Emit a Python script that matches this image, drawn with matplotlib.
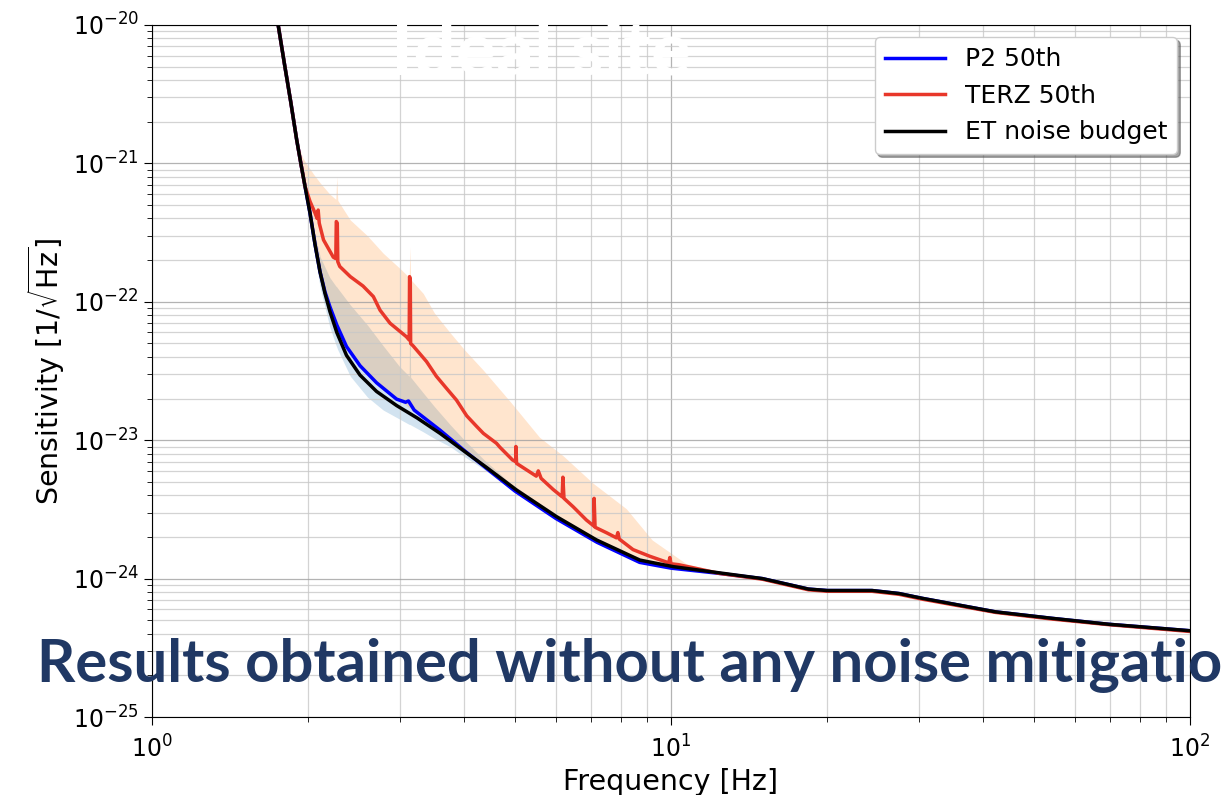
import numpy as np
import matplotlib
matplotlib.use("Agg")
import matplotlib.pyplot as plt
from matplotlib.ticker import NullFormatter

# ET noise budget
et_freq = [1.70, 1.75, 1.80, 1.85, 1.90, 1.94, 1.972, 2.016, 2.061, 2.107, 2.154, 2.202,
           2.27, 2.37, 2.517, 2.708, 2.96, 3.24, 3.59, 4.0, 4.4, 5.04, 6.02, 7.19, 8.71,
           10.1, 12.4, 15.0, 18.4, 20.0, 24.4, 27.5, 30.5, 42.2, 54.3, 69.6, 100.0]
et_val = [1.9e-20, 1.0e-20, 5.2e-21, 2.8e-21, 1.48e-21, 9.5e-22, 6.8e-22, 4.36e-22, 2.6e-22,
          1.65e-22, 1.15e-22, 8.5e-23, 6.0e-23, 4.1e-23, 2.95e-23, 2.25e-23, 1.78e-23,
          1.45e-23, 1.12e-23, 8.3e-24, 6.4e-24, 4.36e-24, 2.8e-24, 1.9e-24, 1.36e-24,
          1.22e-24, 1.1e-24, 1.0e-24, 8.4e-25, 8.2e-25, 8.2e-25, 7.8e-25, 7.2e-25,
          5.75e-25, 5.16e-25, 4.68e-25, 4.2e-25]

# P2 50th percentile
p2_freq = [1.70, 1.75, 1.80, 1.85, 1.90, 1.94, 1.972, 2.016, 2.061, 2.107, 2.154, 2.202,
           2.27, 2.37, 2.517, 2.708, 2.96, 3.08, 3.12, 3.20, 3.59, 4.0, 4.4, 5.0, 6.0, 7.2,
           8.7, 10.0, 12.4, 15.0, 18.4, 20.0, 24.4, 27.5, 30.5, 42.2, 54.3, 69.6, 100.0]
p2_val = [1.9e-20, 1.0e-20, 5.2e-21, 2.8e-21, 1.48e-21, 9.5e-22, 6.8e-22, 4.36e-22, 2.6e-22,
          1.65e-22, 1.18e-22, 9.2e-23, 6.8e-23, 4.75e-23, 3.45e-23, 2.6e-23, 1.98e-23,
          1.88e-23, 1.92e-23, 1.65e-23, 1.18e-23, 8.4e-24, 6.3e-24, 4.3e-24, 2.72e-24,
          1.83e-24, 1.31e-24, 1.19e-24, 1.09e-24, 1.0e-24, 8.4e-25, 8.2e-25, 8.2e-25,
          7.8e-25, 7.2e-25, 5.75e-25, 5.16e-25, 4.68e-25, 4.2e-25]

# TERZ 50th percentile
terz_freq = [1.70, 1.75, 1.80, 1.85, 1.90, 1.94, 1.972, 2.016, 2.06, 2.08, 2.09, 2.10, 2.14,
             2.235, 2.26, 2.265, 2.275, 2.28, 2.30, 2.41, 2.55, 2.67, 2.75, 2.875, 3.09,
             3.13, 3.135, 3.145, 3.15, 3.185, 3.38, 3.53, 3.70, 3.86, 4.04, 4.22, 4.35,
             4.61, 4.68, 4.95, 5.02, 5.025, 5.04, 5.27, 5.50, 5.55, 5.62, 5.93, 6.17, 6.19,
             6.22, 6.48, 6.87, 7.10, 7.11, 7.14, 7.52, 7.85, 7.90, 7.95, 8.45, 9.10, 9.90,
             9.95, 10.0, 10.35, 12.4, 15.0, 18.4, 20.0, 24.4, 27.5, 30.5, 42.2, 54.3, 69.6,
             100.0]
terz_val = [1.9e-20, 1.0e-20, 5.2e-21, 2.8e-21, 1.48e-21, 9.5e-22, 6.8e-22, 5.3e-22, 4.4e-22,
            4.0e-22, 4.6e-22, 3.7e-22, 2.8e-22, 2.1e-22, 2.05e-22, 3.8e-22, 3.7e-22,
            1.95e-22, 1.8e-22, 1.52e-22, 1.3e-22, 1.09e-22, 8.7e-23, 7.0e-23, 5.6e-23,
            5.3e-23, 1.52e-22, 1.45e-22, 5.0e-23, 4.8e-23, 3.7e-23, 2.9e-23, 2.35e-23,
            1.95e-23, 1.5e-23, 1.26e-23, 1.12e-23, 9.5e-24, 8.9e-24, 7.2e-24, 7.0e-24,
            9.0e-24, 6.8e-24, 6.1e-24, 5.5e-24, 6.0e-24, 5.3e-24, 4.4e-24, 3.9e-24, 5.4e-24,
            3.8e-24, 3.3e-24, 2.65e-24, 2.4e-24, 3.8e-24, 2.35e-24, 2.14e-24, 1.97e-24,
            2.15e-24, 1.93e-24, 1.62e-24, 1.45e-24, 1.3e-24, 1.42e-24, 1.28e-24, 1.26e-24,
            1.09e-24, 0.99e-24, 8.3e-25, 8.1e-25, 8.1e-25, 7.7e-25, 7.1e-25, 5.7e-25,
            5.1e-25, 4.65e-25, 4.15e-25]

# spread bands (shaded)
band_freq = [1.90, 1.95, 2.00, 2.05, 2.11, 2.20, 2.26, 2.27, 2.28, 2.41, 2.60, 2.79, 3.00,
             3.13, 3.14, 3.15, 3.33, 3.50, 3.75, 4.00, 4.35, 4.90, 5.58, 6.20, 7.07, 8.20,
             9.20, 10.7, 12.4]
terz_hi = [1.48e-21, 1.1e-21, 9.5e-22, 8.3e-22, 7.2e-22, 6.0e-22, 5.5e-22, 8.0e-22, 5.4e-22,
           3.9e-22, 3.0e-22, 2.24e-22, 1.75e-22, 1.5e-22, 2.5e-22, 1.45e-22, 1.15e-22,
           8.3e-23, 6.0e-23, 4.5e-23, 3.2e-23, 1.9e-23, 1.05e-23, 7.7e-24, 4.9e-24,
           3.2e-24, 1.9e-24, 1.28e-24, 1.12e-24]
terz_lo = [1.48e-21, 8.6e-22, 5.0e-22, 3.0e-22, 1.65e-22, 9.3e-23, 7.2e-23, 7.0e-23, 6.8e-23,
           4.4e-23, 3.0e-23, 2.3e-23, 1.93e-23, 1.72e-23, 1.72e-23, 1.7e-23, 1.45e-23,
           1.26e-23, 1.05e-23, 8.5e-24, 6.7e-24, 4.8e-24, 3.45e-24, 2.7e-24, 2.0e-24,
           1.52e-24, 1.32e-24, 1.18e-24, 1.1e-24]
p2_hi = [1.48e-21, 8.7e-22, 5.2e-22, 3.3e-22, 2.1e-22, 1.5e-22, 1.3e-22, 1.28e-22, 1.25e-22,
         9.5e-23, 6.8e-23, 4.8e-23, 3.4e-23, 2.9e-23, 1.4e-22, 2.85e-23, 2.2e-23,
         1.75e-23, 1.3e-23, 1.0e-23, 7.3e-24, 4.9e-24, 3.5e-24, 2.72e-24, 2.02e-24,
         1.53e-24, 1.33e-24, 1.19e-24, 1.11e-24]
p2_lo = [1.41e-21, 7.8e-22, 4.2e-22, 2.4e-22, 1.25e-22, 6.6e-23, 4.9e-23, 4.7e-23, 4.5e-23,
         2.9e-23, 2.05e-23, 1.65e-23, 1.42e-23, 1.3e-23, 1.3e-23, 1.29e-23, 1.15e-23,
         1.03e-23, 9.0e-24, 7.6e-24, 6.2e-24, 4.5e-24, 3.25e-24, 2.55e-24, 1.9e-24,
         1.45e-24, 1.27e-24, 1.15e-24, 1.08e-24]

fig = plt.figure(figsize=(12.24, 7.95), dpi=100)
ax = fig.add_axes([0.1242, 0.0981, 0.8480, 0.8705])

ax.fill_between(band_freq, p2_lo, p2_hi, color="tab:blue", alpha=0.2, lw=0)
ax.fill_between(band_freq, terz_lo, terz_hi, color="tab:orange", alpha=0.2, lw=0)

ax.plot(p2_freq, p2_val, color="blue", lw=2.5, label="P2 50th")
ax.plot(terz_freq, terz_val, color="#e8372a", lw=2.5, label="TERZ 50th")
ax.plot(et_freq, et_val, color="black", lw=2.5, label="ET noise budget")

ax.set_xscale("log")
ax.set_yscale("log")
ax.set_xlim(1, 100)
ax.set_ylim(1e-25, 1e-20)
ax.xaxis.set_minor_formatter(NullFormatter())
ax.yaxis.set_minor_formatter(NullFormatter())

ax.grid(which="major", color="#a0a0a0", lw=0.9, alpha=0.8)
ax.grid(which="minor", color="#c8c8c8", lw=0.9, alpha=0.8)
ax.tick_params(which="major", labelsize=17, length=6)
ax.tick_params(which="minor", length=3.5)
ax.tick_params(axis="x", pad=7)

ax.set_xlabel("Frequency [Hz]", fontsize=20.5)
ax.set_ylabel(r"Sensitivity [1/$\sqrt{\mathrm{Hz}}$]", fontsize=20.5)

ax.legend(loc="upper right", fontsize=18, shadow=True, framealpha=1, handlelength=2.4)

fig.text(0.442, 0.933, "Ideal site", color="white", fontsize=54, fontweight="bold",
         family="Lato", ha="center", va="center")
fig.text(0.030, 0.142, "Results obtained without any noise mitigation", color="#203864",
         fontsize=43, fontweight="bold", family="Lato", ha="left", va="baseline")

fig.savefig("out.png", dpi=100)
